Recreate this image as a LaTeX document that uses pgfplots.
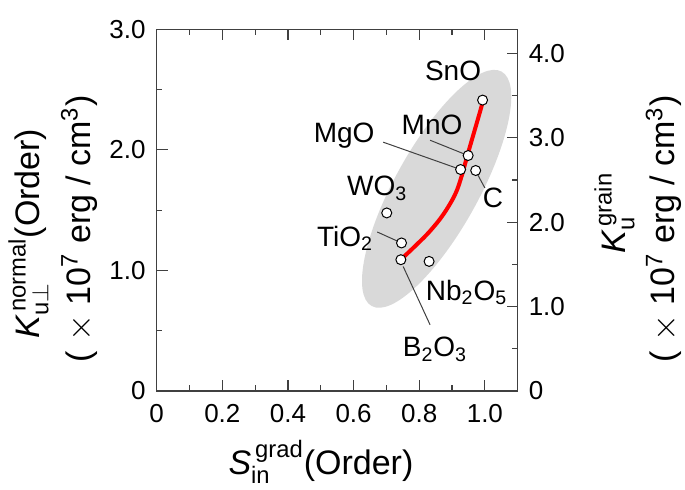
\documentclass[border=0pt]{standalone}
\usepackage{pgfplots}
\pgfplotsset{compat=1.18}
\usepackage{fontspec}
\setmainfont{Liberation Sans}
\usetikzlibrary{shapes.geometric}
\definecolor{ellgray}{RGB}{217,217,217}
\definecolor{axgray}{RGB}{64,64,64}
\begin{document}
\begin{tikzpicture}
\useasboundingbox (-78.35pt,-49pt) rectangle (264.15pt,195.5pt);
\begin{axis}[
  scale only axis, width=180.5pt, height=180.85pt,
  xmin=0, xmax=1.1, ymin=0, ymax=3.0,
  xtick={0,0.2,0.4,0.6,0.8,1.0},
  xticklabels={0,0.2,0.4,0.6,0.8,1.0},
  minor xtick={0.1,0.3,0.5,0.7,0.9},
  ytick={0,1,2,3},
  yticklabels={0,1.0,2.0,3.0},
  minor ytick={0.5,1.5,2.5},
  tick align=inside, xtick pos=both, ytick pos=left,
  major tick length=5.5pt, minor tick length=2.8pt,
  tick style={axgray, line width=0.6pt},
  axis line style={axgray, line width=0.6pt},
  ticklabel style={font=\fontsize{13}{15}\selectfont},
  /pgf/number format/assume math mode=true,
  xticklabel style={yshift=-3pt},
  yticklabel style={xshift=-2pt},
  clip=false,
]
\node[ellipse, fill=ellgray, inner sep=0pt, minimum width=134pt, minimum height=42pt, rotate=61] at (axis cs:0.853,1.677) {};
% red guide curve
\addplot[color=red, line width=2pt, smooth, tension=0.6] coordinates {
 (0.746,1.095) (0.792,1.214) (0.832,1.324) (0.873,1.463) (0.909,1.629)
 (0.929,1.781) (0.949,1.976) (0.990,2.363) (0.993,2.413)};
% leader lines
\addplot[axgray, line width=0.5pt] coordinates {(0.833,2.080) (0.949,1.953)};
\addplot[axgray, line width=0.5pt] coordinates {(0.690,2.064) (0.926,1.837)};
\addplot[axgray, line width=0.5pt] coordinates {(0.975,1.810) (1.000,1.684)};
\addplot[axgray, line width=0.5pt] coordinates {(0.672,1.319) (0.746,1.228)};
\addplot[axgray, line width=0.5pt] coordinates {(0.751,1.033) (0.833,0.549)};
% data points
\addplot[only marks, mark=*, mark size=2.5pt, mark options={fill=white, draw=black, line width=0.5pt}] coordinates {
 (0.993,2.413) (0.949,1.953) (0.926,1.837) (0.972,1.829)
 (0.701,1.477) (0.746,1.228) (0.744,1.089) (0.830,1.075)};
% labels
\begin{scope}[every node/.style={font=\fontsize{14}{16}\selectfont, inner sep=0pt}]
\node at (axis cs:0.903,2.654) {SnO};
\node at (axis cs:0.839,2.211) {MnO};
\node at (axis cs:0.571,2.114) {MgO};
\node at (axis cs:0.672,1.680) {WO\textsubscript{3}};
\node at (axis cs:1.025,1.602) {C};
\node at (axis cs:0.574,1.268) {TiO\textsubscript{2}};
\node at (axis cs:0.944,0.815) {Nb\textsubscript{2}O\textsubscript{5}};
\node at (axis cs:0.848,0.345) {B\textsubscript{2}O\textsubscript{3}};
\end{scope}
% axis labels
\begin{scope}[every node/.style={font=\fontsize{17}{19}\selectfont, inner sep=0pt}]
\node[rotate=90] at (axis description cs:-0.355,0.435) {$\textit{K}_{\mathrm{u}\perp}^{\,\mathrm{normal}}$(Order)};
\node[rotate=90] at (axis description cs:-0.215,0.448) {( $\times$ 10\textsuperscript{7} erg / cm\textsuperscript{3})};
\node[rotate=90] at (axis description cs:1.268,0.492) {$\textit{K}_{\mathrm{u}}^{\,\mathrm{grain}}$};
\node[rotate=90] at (axis description cs:1.405,0.448) {( $\times$ 10\textsuperscript{7} erg / cm\textsuperscript{3})};
\node at (axis description cs:0.455,-0.196) {$\textit{S}_{\mathrm{in}}^{\,\mathrm{grad}}$(Order)};
\end{scope}
\end{axis}
\begin{axis}[
  scale only axis, width=180.5pt, height=180.85pt,
  xmin=0, xmax=1.1, ymin=0, ymax=4.285714,
  axis x line=none, axis y line*=right,
  ytick={0,1,2,3,4},
  yticklabels={0,1.0,2.0,3.0,4.0},
  minor ytick={0.5,1.5,2.5,3.5},
  tick align=inside,
  major tick length=5.5pt, minor tick length=2.8pt,
  tick style={axgray, line width=0.6pt},
  axis line style={axgray, line width=0.6pt},
  ticklabel style={font=\fontsize{13}{15}\selectfont},
  /pgf/number format/assume math mode=true,
  yticklabel style={xshift=2pt},
]
\end{axis}
\end{tikzpicture}
\end{document}
